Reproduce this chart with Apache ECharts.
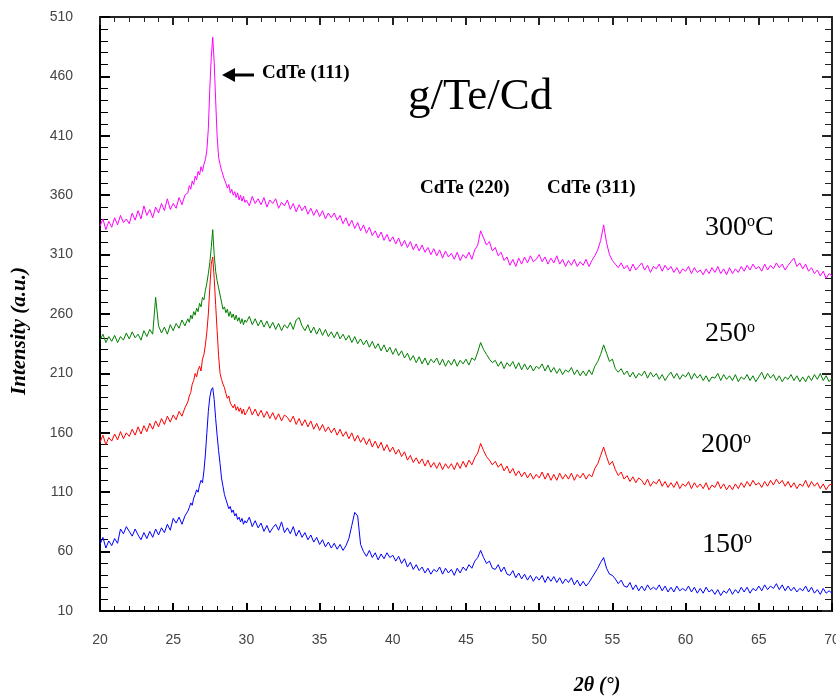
<!DOCTYPE html>
<html>
<head>
<meta charset="utf-8">
<title>XRD g/Te/Cd</title>
<script src="https://cdn.jsdelivr.net/npm/echarts@6/dist/echarts.min.js"></script>
<style>
  html, body { margin: 0; padding: 0; background: #fff; }
  #chart { width: 836px; height: 698px; }
</style>
</head>
<body>
<div id="chart"></div>
<script>
// 2-theta sampling: 0.2 deg, 0.1 deg around the (111) peak
const twoTheta = [];
for (let d = 20; d < 70; d++) {
  const step = d >= 26 && d < 30 ? 0.1 : 0.2;
  const n = Math.round(1 / step);
  for (let k = 0; k < n; k++) twoTheta.push(+(d + k * step).toFixed(1));
}
twoTheta.push(70);

const tickLabelsY = [10, 60, 110, 160, 210, 260, 310, 360, 410, 460, 510];
const seriesNames = ['150°', '200°', '250°', '300°C'];

// 300 C (magenta)
const t300 = [
  334, 340, 331, 338, 333,  341, 335, 343, 337, 340,  336, 345, 339, 347, 340,
  351, 343, 348, 341, 350,  345, 353, 347, 357, 348,  353, 349, 358, 352, 360,
  362, 368, 365, 372, 369, 376, 373, 380, 377, 384,
  380, 386, 390, 398, 416, 450, 476, 493, 472, 440,
  410, 392, 386, 381, 377, 373, 370, 366, 369, 362,
  365, 360, 363, 358, 362, 356, 360, 355, 359, 354,
  356, 351, 359, 353, 357,  352, 358, 350, 356, 353,  357, 349, 354, 351, 356,
  348, 353, 346, 352, 347,  351, 344, 349, 343, 348,  342, 347, 340, 345, 341,
  345, 339, 343, 336, 341,  334, 339, 332, 337, 330,  335, 328, 333, 326, 330,
  324, 329, 322, 327, 321,  325, 319, 324, 317, 322,  316, 321, 314, 319, 313,
  318, 312, 316, 310, 315,  309, 314, 307, 313, 308,  311, 306, 312, 305, 310,
  307, 312, 306, 314, 318,  330, 324, 318, 321, 313,  316, 309, 312, 305, 308,
  301, 306, 300, 307, 302,  308, 303, 309, 304, 306,  310, 304, 308, 302, 307,
  303, 309, 302, 306, 300,  305, 301, 306, 300, 304,  301, 306, 300, 305, 309,
  314, 322, 335, 320, 310,  305, 302, 299, 303, 298,  301, 296, 302, 297, 300,
  303, 297, 301, 295, 300,  298, 302, 296, 301, 297,  300, 295, 299, 294, 298,
  296, 300, 294, 299, 295,  297, 293, 298, 294, 299,  295, 300, 294, 298, 293,
  299, 294, 298, 295, 300,  296, 301, 297, 302, 298,  300, 296, 302, 297, 301,
  298, 303, 299, 302, 297,  301, 304, 307, 300, 303,  298, 302, 296, 299, 294,
  297, 292, 296, 290, 294,
  292
];

// 250 C (green)
const t250 = [
  238, 243, 236, 241, 237,  242, 236, 241, 238, 244,  239, 245, 240, 243, 238,
  246, 241, 247, 243, 274,  250, 244, 249, 243, 251,  246, 252, 248, 255, 250,
  256, 253, 259, 256, 262, 259, 265, 262, 269, 266,
  274, 272, 280, 286, 294, 303, 316, 331, 310, 296,
  288, 282, 276, 270, 264, 266, 261, 264, 258, 262,
  257, 260, 255, 259, 254, 257, 252, 256, 251, 255,
  253, 258, 251, 256, 250,  255, 249, 254, 248, 253,  247, 252, 246, 251, 248,
  253, 247, 255, 257, 250,  246, 251, 244, 249, 243,  248, 242, 247, 241, 245,
  240, 245, 239, 243, 238,  242, 236, 241, 235, 239,  234, 238, 232, 237, 231,
  235, 229, 234, 228, 232,  226, 231, 225, 229, 223,  227, 221, 225, 219, 224,
  218, 223, 217, 222, 219,  223, 217, 222, 216, 221,  217, 222, 216, 221, 218,
  222, 217, 223, 221, 228,  236, 230, 226, 222, 219,  221, 216, 220, 214, 219,
  216, 220, 214, 219, 213,  218, 213, 217, 212, 216,  214, 218, 212, 217, 211,
  215, 210, 214, 209, 213,  211, 215, 209, 213, 208,  212, 208, 213, 209, 216,
  220, 226, 234, 227, 220,  222, 214, 211, 214, 209,  212, 207, 211, 206, 210,
  208, 212, 206, 211, 207,  210, 205, 209, 204, 208,  211, 206, 210, 205, 209,
  207, 211, 205, 210, 206,  209, 204, 208, 203, 207,  206, 210, 204, 209, 205,
  208, 204, 209, 203, 207,  205, 209, 204, 208, 203,  207, 211, 205, 210, 206,
  209, 204, 208, 203, 207,  205, 209, 204, 208, 203,  207, 203, 208, 204, 209,
  205, 210, 204, 208, 203,
  206
];

// 200 C (red)
const t200 = [
  152, 158, 150, 156, 153,  159, 154, 161, 155, 160,  157, 163, 158, 165, 159,
  166, 161, 168, 163, 170,  165, 172, 167, 174, 169,  175, 171, 178, 174, 181,
  186, 191, 194, 201, 204, 210, 207, 213, 216, 212,
  222, 226, 234, 245, 260, 282, 302, 308, 290, 268,
  246, 225, 210, 205, 201, 198, 193, 189, 191, 185,
  186, 181, 184, 179, 182, 178, 181, 176, 180, 175,
  177, 182, 175, 180, 174,  179, 173, 178, 172, 177,  171, 176, 170, 175, 173,
  169, 174, 167, 172, 166,  171, 165, 170, 163, 168,  162, 167, 161, 165, 160,
  164, 158, 163, 157, 161,  155, 160, 153, 158, 152,  156, 150, 155, 148, 153,
  147, 152, 145, 150, 144,  148, 142, 146, 140, 144,  137, 141, 135, 139, 134,
  138, 132, 137, 131, 135,  130, 135, 129, 134, 130,  134, 129, 135, 130, 136,
  131, 137, 133, 139, 143,  151, 145, 140, 137, 133,  136, 131, 134, 128, 132,
  126, 130, 124, 128, 123,  127, 122, 126, 121, 125,  122, 127, 121, 126, 120,
  125, 120, 126, 121, 125,  121, 126, 120, 125, 122,  126, 121, 125, 123, 130,
  134, 141, 148, 140, 133,  136, 129, 124, 127, 121,  124, 119, 123, 118, 122,
  120, 116, 121, 115, 119,  117, 121, 115, 119, 114,  118, 114, 119, 113, 117,
  115, 119, 113, 118, 114,  117, 113, 118, 112, 116,  114, 119, 113, 117, 112,
  116, 112, 117, 113, 118,  114, 119, 115, 120, 116,  118, 114, 119, 115, 120,
  116, 121, 117, 120, 115,  119, 114, 118, 113, 117,  115, 120, 114, 119, 115,
  118, 113, 117, 112, 116,
  117
];

// 150 C (blue)
const t150 = [
  66, 72, 63, 69, 65,  71, 67, 79, 75, 81,  77, 73, 79, 74, 70,
  76, 71, 77, 72, 79,  74, 80, 76, 83, 78,  88, 84, 89, 83, 90,
  94, 97, 101, 99, 105, 108, 112, 110, 116, 120,
  118, 128, 142, 160, 178, 190, 196, 198, 188, 172,
  158, 145, 134, 122, 115, 108, 104, 100, 96, 98,
  93, 95, 90, 92, 87, 89, 85, 88, 83, 86,
  84, 89, 81, 86, 80,  84, 77, 82, 76, 80,  83, 78, 85, 76, 80,
  75, 81, 73, 78, 72,  76, 70, 74, 68, 72,  66, 70, 64, 68, 63,
  67, 62, 66, 61, 65,  71, 82, 93, 90, 66,  60, 56, 61, 55, 59,
  53, 58, 54, 59, 55,  57, 52, 56, 50, 54,  47, 51, 45, 49, 44,
  47, 42, 46, 41, 45,  43, 47, 41, 46, 42,  45, 40, 46, 42, 47,
  44, 49, 46, 52, 55,  61, 55, 50, 52, 46,  45, 49, 43, 47, 41,
  40, 44, 38, 42, 37,  41, 36, 40, 35, 39,  36, 40, 34, 39, 35,
  39, 34, 38, 33, 37,  34, 38, 32, 36, 31,  35, 31, 34, 38, 42,
  46, 51, 55, 46, 41,  40, 37, 33, 36, 31,  30, 34, 28, 32, 27,
  31, 27, 32, 28, 30,  28, 32, 27, 31, 26,  30, 26, 31, 27, 29,
  27, 31, 26, 30, 25,  29, 25, 30, 26, 28,  24, 28, 23, 27, 25,
  29, 24, 28, 25, 30,  26, 30, 25, 29, 27,  31, 27, 32, 28, 31,
  29, 33, 28, 32, 27,  31, 27, 30, 26, 29,  27, 31, 26, 30, 25,
  28, 24, 29, 25, 27,
  25
];

const lineColors = ['#0000ff', '#ff0000', '#008000', '#ff00ff'];

const chart = echarts.init(document.getElementById('chart'));

function pairs(ys) {
  return twoTheta.map((x, i) => [x, ys[i]]);
}

const serif = '"Liberation Serif", "Times New Roman", serif';

function tempLabel(main, suffix, x, y) {
  return {
    type: 'text',
    x: x,
    y: y,
    style: {
      text: '{a|' + main + '}{s|o}' + (suffix ? '{a|' + suffix + '}' : ''),
      verticalAlign: 'middle',
      rich: {
        a: { fontFamily: serif, fontSize: 28, lineHeight: 28, fill: '#000', color: '#000' },
        s: { fontFamily: serif, fontSize: 16, lineHeight: 16, verticalAlign: 'top', fill: '#000', color: '#000' }
      }
    }
  };
}

const axisBase = {
  type: 'value',
  splitLine: { show: false },
  axisLine: { show: true, onZero: false, lineStyle: { color: '#000', width: 2 } }
};

chart.setOption({
  animation: false,
  backgroundColor: '#fff',
  grid: { left: 100, right: 4, top: 17, bottom: 87, containLabel: false, outerBoundsMode: 'none' },
  xAxis: [
    Object.assign({}, axisBase, {
      min: 20, max: 70, interval: 5, position: 'bottom',
      axisTick: { inside: true, length: 8, lineStyle: { color: '#000', width: 2 } },
      minorTick: { show: true, splitNumber: 5, length: 5, lineStyle: { color: '#000', width: 1 } },
      axisLabel: { margin: 22, fontSize: 14, color: '#444', fontFamily: 'Liberation Sans' }
    }),
    Object.assign({}, axisBase, {
      min: 20, max: 70, interval: 5, position: 'top',
      axisLine: { show: true, lineStyle: { color: '#222', width: 2 } },
      axisTick: { inside: true, length: 8, lineStyle: { color: '#222', width: 2 } },
      minorTick: { show: true, splitNumber: 5, length: 5, lineStyle: { color: '#222', width: 1 } },
      axisLabel: { show: false }
    })
  ],
  yAxis: [
    Object.assign({}, axisBase, {
      min: 10, max: 510, interval: 50, position: 'left',
      axisTick: { inside: true, length: 10, lineStyle: { color: '#000', width: 2 } },
      minorTick: { show: true, splitNumber: 5, length: 8, lineStyle: { color: '#000', width: 1 } },
      axisLabel: {
        margin: 27, fontSize: 14, color: '#444', fontFamily: 'Liberation Sans',
        formatter: v => (tickLabelsY.indexOf(v) >= 0 ? String(v) : '')
      }
    }),
    Object.assign({}, axisBase, {
      min: 10, max: 510, interval: 50, position: 'right',
      axisLine: { show: true, lineStyle: { color: '#222', width: 2 } },
      axisTick: { inside: true, length: 10, lineStyle: { color: '#222', width: 2 } },
      minorTick: { show: true, splitNumber: 5, length: 7, lineStyle: { color: '#222', width: 1 } },
      axisLabel: { show: false }
    })
  ],
  series: [t150, t200, t250, t300].map((ys, i) => ({
    name: seriesNames[i],
    type: 'line',
    xAxisIndex: 0,
    yAxisIndex: 0,
    showSymbol: false,
    symbol: 'none',
    lineStyle: { color: lineColors[i], width: 1 },
    data: pairs(ys)
  })),
  graphic: [
    { type: 'text', x: 262, y: 73,
      style: { text: 'CdTe (111)', font: 'bold 19px ' + serif, fill: '#000', verticalAlign: 'middle' } },
    { type: 'polygon', shape: { points: [[222, 75], [235, 68], [235, 82]] }, style: { fill: '#000' } },
    { type: 'line', shape: { x1: 233, y1: 75, x2: 254, y2: 75 }, style: { stroke: '#000', lineWidth: 3 } },
    { type: 'text', x: 408, y: 97,
      style: { text: 'g/Te/Cd', font: '45px ' + serif, fill: '#000', verticalAlign: 'middle' } },
    { type: 'text', x: 420, y: 188,
      style: { text: 'CdTe (220)', font: 'bold 19px ' + serif, fill: '#000', verticalAlign: 'middle' } },
    { type: 'text', x: 547, y: 188,
      style: { text: 'CdTe (311)', font: 'bold 19px ' + serif, fill: '#000', verticalAlign: 'middle' } },
    tempLabel('300', 'C', 705, 228),
    tempLabel('250', '', 705, 334),
    tempLabel('200', '', 701, 445),
    tempLabel('150', '', 702, 545),
    { type: 'text', x: 20, y: 331, rotation: Math.PI / 2,
      style: { text: 'Intensity (a.u.)', font: 'italic bold 21px ' + serif, fill: '#000',
               align: 'center', verticalAlign: 'middle' } },
    { type: 'text', x: 597, y: 686,
      style: { text: '2θ (°)', font: 'italic bold 20px ' + serif, fill: '#000',
               align: 'center', verticalAlign: 'middle' } }
  ]
});
</script>
</body>
</html>
